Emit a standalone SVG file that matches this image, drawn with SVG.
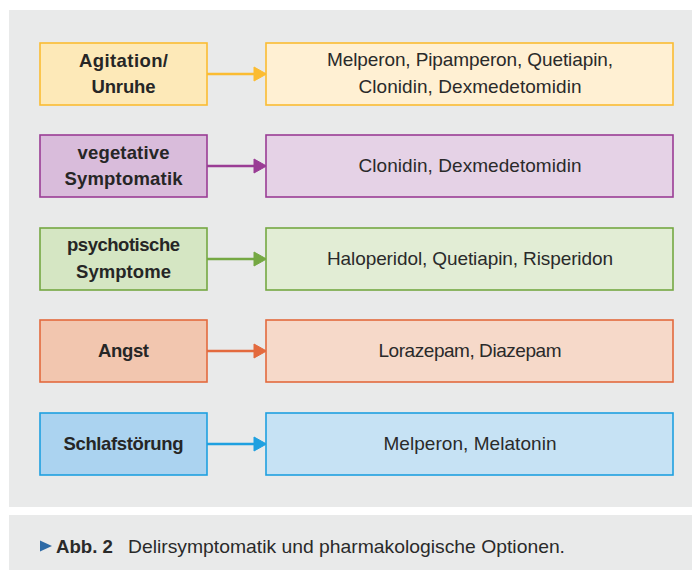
<svg xmlns="http://www.w3.org/2000/svg" width="692" height="570" viewBox="0 0 692 570">
  <style>
    .panel { fill: #e9eaea; }
    .box { stroke-width: 1.6; }
    .lbl { font-family: "Liberation Sans", Arial, sans-serif; font-size: 18.5px; font-weight: bold; fill: #262626; text-anchor: middle; }
    .txt { font-family: "Liberation Sans", Arial, sans-serif; font-size: 19px; fill: #2a2a2a; text-anchor: middle; }
    .cap { font-family: "Liberation Sans", Arial, sans-serif; font-size: 19px; fill: #2a2a2a; }
    .conn { stroke-width: 2.6; fill: none; }
    .y1 { fill: #fde9b8; stroke: #fbbc32; } .y2 { fill: #fff0d3; stroke: #fbbc32; }
    .p1 { fill: #d9bcdb; stroke: #9a3d95; } .p2 { fill: #e5d2e6; stroke: #9a3d95; }
    .g1 { fill: #d5e6c3; stroke: #75a843; } .g2 { fill: #e2edd5; stroke: #75a843; }
    .o1 { fill: #f2c6af; stroke: #e36a3e; } .o2 { fill: #f6d9c9; stroke: #e36a3e; }
    .b1 { fill: #abd3f0; stroke: #1fa0e0; } .b2 { fill: #c6e2f4; stroke: #1fa0e0; }
  </style>
  <rect width="692" height="570" fill="#ffffff"/>
  <rect class="panel" x="9" y="10" width="683" height="497"/>
  <rect class="panel" x="9" y="515" width="683" height="55"/>

  <g id="connectors">
    <g stroke="#fbbc32" fill="#fbbc32"><line class="conn" x1="207" y1="74" x2="256" y2="74"/><polygon points="254,67 266.5,74 254,81"/></g>
    <g stroke="#9a3d95" fill="#9a3d95"><line class="conn" x1="207" y1="166" x2="256" y2="166"/><polygon points="254,159 266.5,166 254,173"/></g>
    <g stroke="#75a843" fill="#75a843"><line class="conn" x1="207" y1="259" x2="256" y2="259"/><polygon points="254,252 266.5,259 254,266"/></g>
    <g stroke="#e36a3e" fill="#e36a3e"><line class="conn" x1="207" y1="351" x2="256" y2="351"/><polygon points="254,344 266.5,351 254,358"/></g>
    <g stroke="#1fa0e0" fill="#1fa0e0"><line class="conn" x1="207" y1="444" x2="256" y2="444"/><polygon points="254,437 266.5,444 254,451"/></g>
  </g>

  <g id="agitation">
    <rect class="box y1" x="40" y="43" width="167" height="62"/>
    <text class="lbl" x="123.5" y="67" textLength="89">Agitation/</text>
    <text class="lbl" x="123.5" y="93" textLength="64">Unruhe</text>
  </g>
  <g id="agitation-drugs">
    <rect class="box y2" x="266" y="43" width="407" height="62"/>
    <text class="txt" x="470" y="66" textLength="286">Melperon, Pipamperon, Quetiapin,</text>
    <text class="txt" x="470" y="93" textLength="223">Clonidin, Dexmedetomidin</text>
  </g>

  <g id="vegetative">
    <rect class="box p1" x="40" y="135" width="167" height="62"/>
    <text class="lbl" x="123.5" y="158.5" textLength="92">vegetative</text>
    <text class="lbl" x="123.5" y="184.5" textLength="118">Symptomatik</text>
  </g>
  <g id="vegetative-drugs">
    <rect class="box p2" x="266" y="135" width="407" height="62"/>
    <text class="txt" x="470" y="171.5" textLength="223">Clonidin, Dexmedetomidin</text>
  </g>

  <g id="psychotisch">
    <rect class="box g1" x="40" y="228" width="167" height="62"/>
    <text class="lbl" x="123.5" y="251" textLength="113">psychotische</text>
    <text class="lbl" x="123.5" y="277.5" textLength="95">Symptome</text>
  </g>
  <g id="psychotisch-drugs">
    <rect class="box g2" x="266" y="228" width="407" height="62"/>
    <text class="txt" x="470" y="264.5" textLength="286">Haloperidol, Quetiapin, Risperidon</text>
  </g>

  <g id="angst">
    <rect class="box o1" x="40" y="320" width="167" height="62"/>
    <text class="lbl" x="123.5" y="357" textLength="51">Angst</text>
  </g>
  <g id="angst-drugs">
    <rect class="box o2" x="266" y="320" width="407" height="62"/>
    <text class="txt" x="470" y="357" textLength="183">Lorazepam, Diazepam</text>
  </g>

  <g id="schlaf">
    <rect class="box b1" x="40" y="413" width="167" height="62"/>
    <text class="lbl" x="123.5" y="450" textLength="120">Schlafstörung</text>
  </g>
  <g id="schlaf-drugs">
    <rect class="box b2" x="266" y="413" width="407" height="62"/>
    <text class="txt" x="470" y="450" textLength="173">Melperon, Melatonin</text>
  </g>

  <g id="caption">
    <polygon points="40,540.5 52,546 40,551.5" fill="#2d6aa6"/>
    <text class="cap" x="56" y="553" font-weight="bold" textLength="57" lengthAdjust="spacingAndGlyphs">Abb. 2</text>
    <text class="cap" x="128" y="553" textLength="437" lengthAdjust="spacingAndGlyphs">Delirsymptomatik und pharmakologische Optionen.</text>
  </g>
</svg>
